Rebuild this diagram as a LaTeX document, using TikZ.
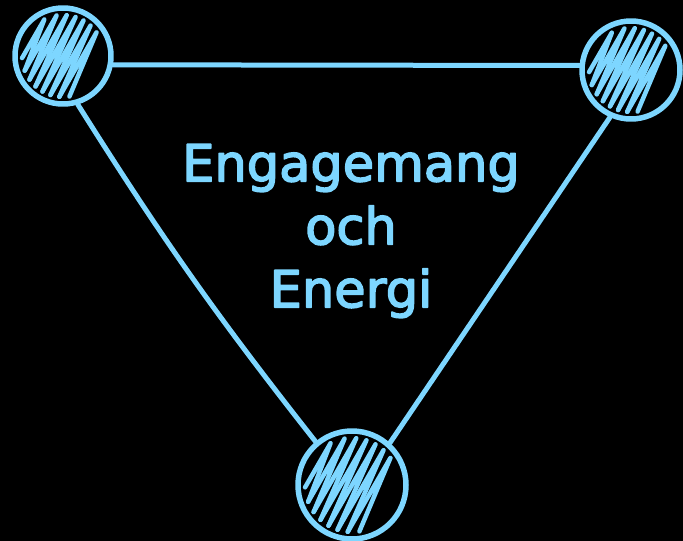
\documentclass[tikz,border=0pt]{standalone}
\usepackage{fontspec}
\setmainfont{DejaVu Sans}[FakeBold=3]
\definecolor{sky}{HTML}{7DD6FF}

\begin{document}
\begin{tikzpicture}[x=1pt,y=-1pt,sky,line width=5pt,line cap=round,line join=round,
  ball/.style={circle,draw,line width=5.5pt,minimum size=#1,inner sep=0pt},
  scribble/.style={line width=4.5pt}]

  \fill[black] (0,0) rectangle (683,541);
  \useasboundingbox (0,0) rectangle (683,541);

  \node[ball=96pt]  (a) at (63,56)  {};
  \node[ball=98pt]  (b) at (631,70) {};
  \node[ball=108pt] (c) at (352,485) {};

  % hatching inside the balls
  \foreach \n/\r in {a/41,b/42,c/47}{
    \foreach \f [evaluate=\f as \g using \f+0.21] in {-0.84,-0.63,...,0.6}{
      \draw[scribble,shift={(\n.center)}]
        ({\r*(0.866*\f-0.5*sqrt(1-\f*\f))},{\r*(0.5*\f+0.866*sqrt(1-\f*\f))})
        -- ({\r*(0.866*\f+0.5*sqrt(1-\f*\f))},{\r*(0.5*\f-0.866*sqrt(1-\f*\f))})
        -- ({\r*(0.866*\g-0.5*sqrt(1-\g*\g))},{\r*(0.5*\g+0.866*sqrt(1-\g*\g))});
    }
  }

  \draw (a.-10) -- (b.175);
  \draw (a.287) to[bend right=3] (c.130);
  \draw (b.246) -- (c.48);

  \node[font=\fontsize{51}{63}\selectfont,align=center] (txt) at (351,231)
    {Engagemang\\och\\Energi};
\end{tikzpicture}
\end{document}
